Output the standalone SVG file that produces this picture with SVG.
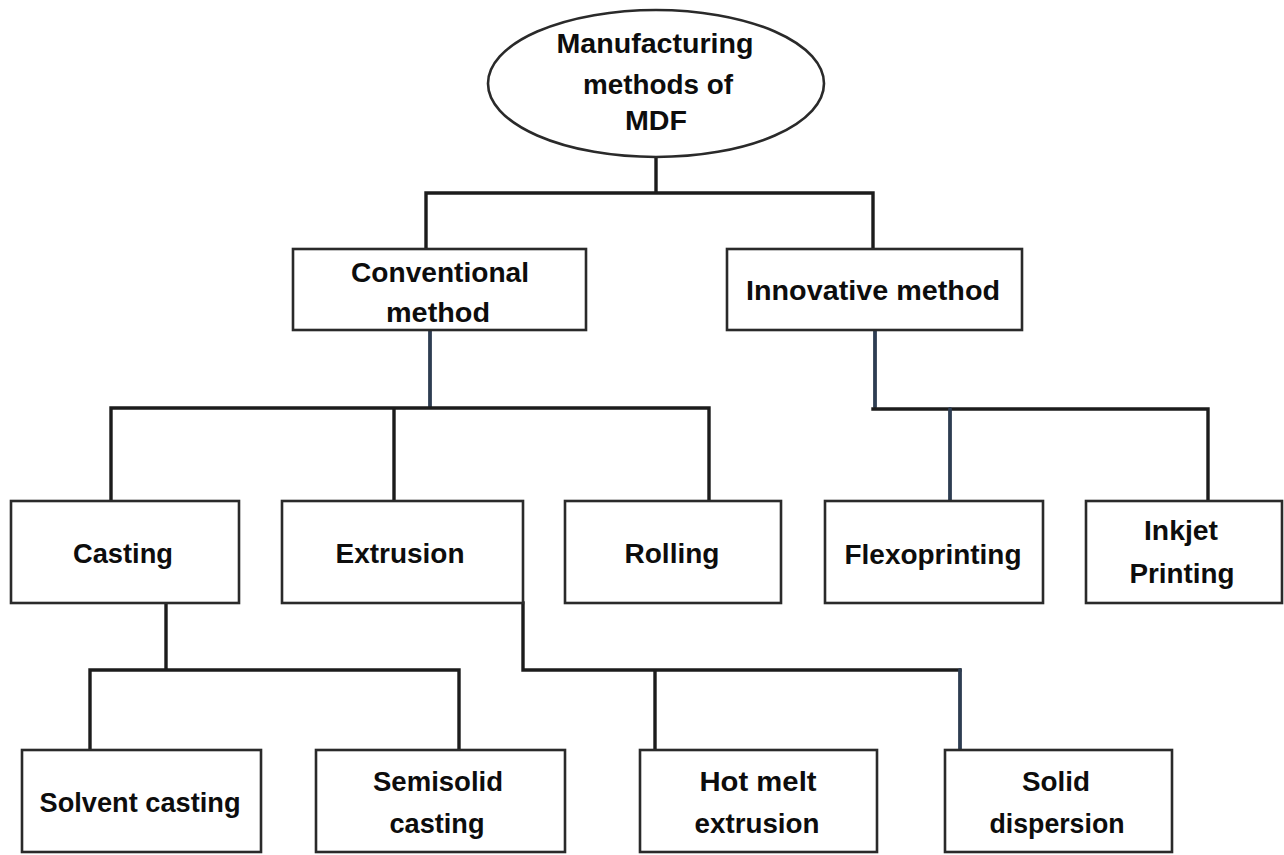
<svg xmlns="http://www.w3.org/2000/svg" width="1284" height="855" viewBox="0 0 1284 855">
<style>
.bg{fill:#ffffff}
.box{fill:#ffffff;stroke:#2a2a2a;stroke-width:2.6}
.c{fill:none;stroke:#1c1c1c;stroke-width:3.4;stroke-linecap:square}
.cb{fill:none;stroke:#2e3d52;stroke-width:3.8;stroke-linecap:round}
.t{font-family:"Liberation Sans",Arial,sans-serif;font-weight:bold;font-size:27px;fill:#0d0d0d;text-anchor:middle}
</style>
<rect class="bg" x="0" y="0" width="1284" height="855"/>
<g id="connectors">
<path class="c" d="M656,157 V193 M426,249 V193 H873 V249"/>
<path class="cb" d="M430,331 V407"/>
<path class="c" d="M111,501 V408 H709 V501 M394,408 V501"/>
<path class="cb" d="M875,331 V407"/>
<path class="c" d="M873,409 H1208 V501"/>
<path class="cb" d="M950,409 V501"/>
<path class="c" d="M166,603 V670 M90,750 V670 H459 V750"/>
<path class="c" d="M523,603 V670 H960 M655,670 V750"/>
<path class="cb" d="M960,670 V750"/>
</g>
<g id="root">
<ellipse class="box" cx="656" cy="83.5" rx="168" ry="73.5"/>
<text class="t" x="655" y="53" textLength="197" lengthAdjust="spacingAndGlyphs">Manufacturing</text>
<text class="t" x="658" y="94" textLength="150" lengthAdjust="spacingAndGlyphs">methods of</text>
<text class="t" x="656" y="130" textLength="62" lengthAdjust="spacingAndGlyphs">MDF</text>
</g>
<g id="conventional">
<rect class="box" x="293" y="249" width="293" height="81"/>
<text class="t" x="440" y="282" textLength="178" lengthAdjust="spacingAndGlyphs">Conventional</text>
<text class="t" x="438" y="322" textLength="104" lengthAdjust="spacingAndGlyphs">method</text>
</g>
<g id="innovative">
<rect class="box" x="727" y="249" width="295" height="81"/>
<text class="t" x="873" y="300" textLength="254" lengthAdjust="spacingAndGlyphs">Innovative method</text>
</g>
<g id="casting">
<rect class="box" x="11" y="501" width="228" height="102"/>
<text class="t" x="123" y="563" textLength="100" lengthAdjust="spacingAndGlyphs">Casting</text>
</g>
<g id="extrusion">
<rect class="box" x="282" y="501" width="241" height="102"/>
<text class="t" x="400" y="563" textLength="129" lengthAdjust="spacingAndGlyphs">Extrusion</text>
</g>
<g id="rolling">
<rect class="box" x="565" y="501" width="216" height="102"/>
<text class="t" x="672" y="563" textLength="95" lengthAdjust="spacingAndGlyphs">Rolling</text>
</g>
<g id="flexoprinting">
<rect class="box" x="825" y="501" width="218" height="102"/>
<text class="t" x="933" y="564" textLength="177" lengthAdjust="spacingAndGlyphs">Flexoprinting</text>
</g>
<g id="inkjet">
<rect class="box" x="1086" y="501" width="196" height="102"/>
<text class="t" x="1181" y="540" textLength="74" lengthAdjust="spacingAndGlyphs">Inkjet</text>
<text class="t" x="1182" y="583" textLength="105" lengthAdjust="spacingAndGlyphs">Printing</text>
</g>
<g id="solvent-casting">
<rect class="box" x="22" y="750" width="239" height="102"/>
<text class="t" x="140" y="812" textLength="201" lengthAdjust="spacingAndGlyphs">Solvent casting</text>
</g>
<g id="semisolid-casting">
<rect class="box" x="316" y="750" width="249" height="102"/>
<text class="t" x="438" y="791" textLength="130" lengthAdjust="spacingAndGlyphs">Semisolid</text>
<text class="t" x="437" y="833" textLength="95" lengthAdjust="spacingAndGlyphs">casting</text>
</g>
<g id="hot-melt-extrusion">
<rect class="box" x="640" y="750" width="237" height="102"/>
<text class="t" x="758" y="791" textLength="117" lengthAdjust="spacingAndGlyphs">Hot melt</text>
<text class="t" x="757" y="833" textLength="125" lengthAdjust="spacingAndGlyphs">extrusion</text>
</g>
<g id="solid-dispersion">
<rect class="box" x="945" y="750" width="227" height="102"/>
<text class="t" x="1056" y="791" textLength="68" lengthAdjust="spacingAndGlyphs">Solid</text>
<text class="t" x="1057" y="833" textLength="135" lengthAdjust="spacingAndGlyphs">dispersion</text>
</g>
</svg>
